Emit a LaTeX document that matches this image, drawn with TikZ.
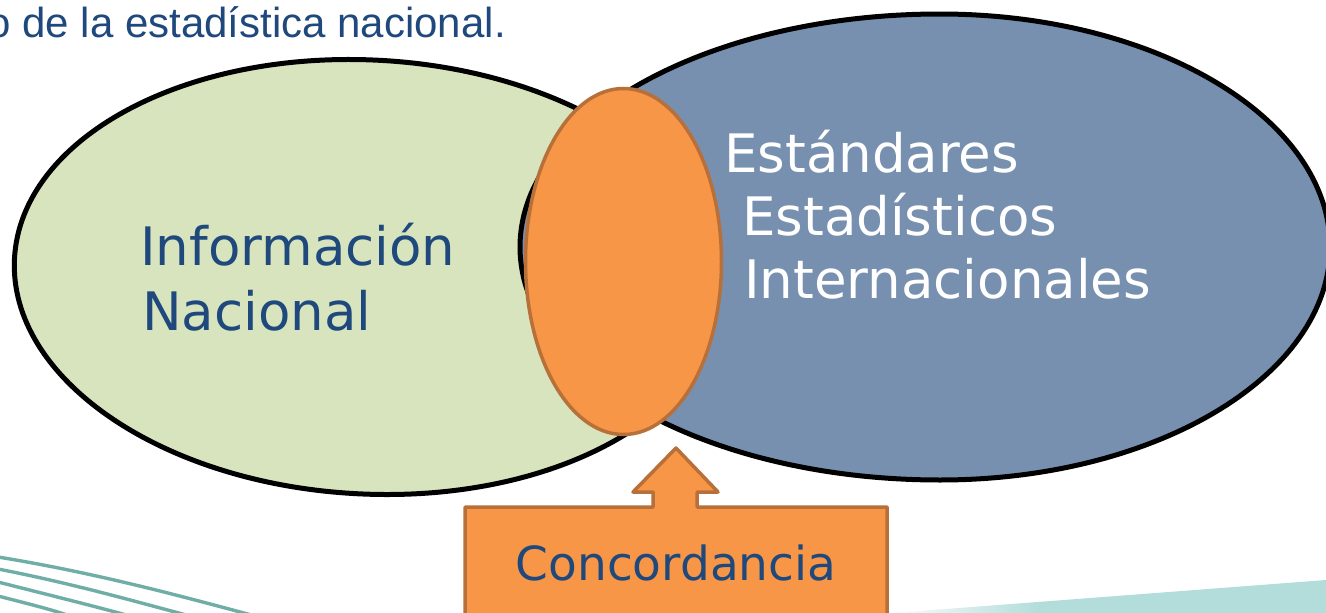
\documentclass[tikz,border=0pt]{standalone}
\usepackage{fontspec}
\setmainfont{DejaVu Sans}
\newfontfamily\arialfont{Liberation Sans}
\definecolor{greenfill}{HTML}{D7E4BD}
\definecolor{bluefill}{HTML}{7790B0}
\definecolor{orangefill}{HTML}{F79646}
\definecolor{orangeline}{HTML}{B8703A}
\definecolor{textblue}{HTML}{1F497D}
\definecolor{tealline}{HTML}{5FA69E}
\definecolor{tealbg}{HTML}{B2DDDA}
\tikzset{
  blob/.style={draw=black, line width=5pt},
  bigtext/.style={inner sep=0pt, font=\fontsize{53}{62}\selectfont},
  calloutshape/.style={fill=orangefill, draw=orangeline, line width=3.5pt, line join=round},
  deco/.style={tealline, line width=3.4pt, opacity=0.9}
}
\begin{document}
\begin{tikzpicture}[x=1pt,y=-1pt]
\useasboundingbox (0,0) rectangle (1326,613);
\clip (0,0) rectangle (1326,613);
\fill[white] (0,0) rectangle (1326,613);
% decorations
\shade[left color=white, right color=tealbg] (880,614) -- (1040,601.8) -- (1040,614) -- cycle;
\fill[tealbg] (1039,601.9) -- (1326,580) -- (1326,614) -- (1039,614) -- cycle;
\draw[deco] (-2,557) .. controls (90,572) and (170,593) .. (255,616);
\draw[deco] (-2,569) .. controls (70,583) and (130,600) .. (190,616);
\draw[deco] (-2,582) .. controls (45,594) and (90,605) .. (130,616);
\draw[deco] (-2,596) .. controls (25,603) and (50,609) .. (70,616);
% top text
\node[inner sep=0pt, anchor=base east, text=textblue, font=\arialfont\fontsize{42}{48}\selectfont] (toptext) at (506,37) {o de la estadística nacional.};
% green ellipse
\draw[blob, fill=greenfill, rotate around={-3:(368,277)}] (368,277) ellipse [x radius=354pt, y radius=217pt];
% blue ellipse (two half ellipses)
\draw[blob, fill=bluefill] (940,14) arc[start angle=90, end angle=270, x radius=420pt, y radius=233pt]
  arc[start angle=-90, end angle=90, x radius=390pt, y radius=233pt] -- cycle;
% orange ellipse
\draw[fill=orangefill, draw=orangeline, line width=3.5pt] (623.5,261.5) ellipse [x radius=98pt, y radius=173pt];
% texts
\node[bigtext, anchor=base west, text=textblue] (info1) at (140,265) {Información};
\node[bigtext, anchor=base west, text=textblue] (info2) at (142,330) {Nacional};
\node[bigtext, anchor=base west, text=white] (est1) at (724,172) {Estándares};
\node[bigtext, anchor=base west, text=white] (est2) at (742,235) {Estadísticos};
\node[bigtext, anchor=base west, text=white] (est3) at (744,298) {Internacionales};
% callout
\draw[calloutshape] (465,625) -- (465,507) -- (653,507) -- (653,492) -- (633,492) -- (676,448)
  -- (718,492) -- (697,492) -- (697,507) -- (887,507) -- (887,625) -- cycle;
\node[inner sep=0pt, anchor=base, text=textblue, font=\fontsize{47}{56}\selectfont] (conc) at (676,580) {Concordancia};
\end{tikzpicture}
\end{document}
